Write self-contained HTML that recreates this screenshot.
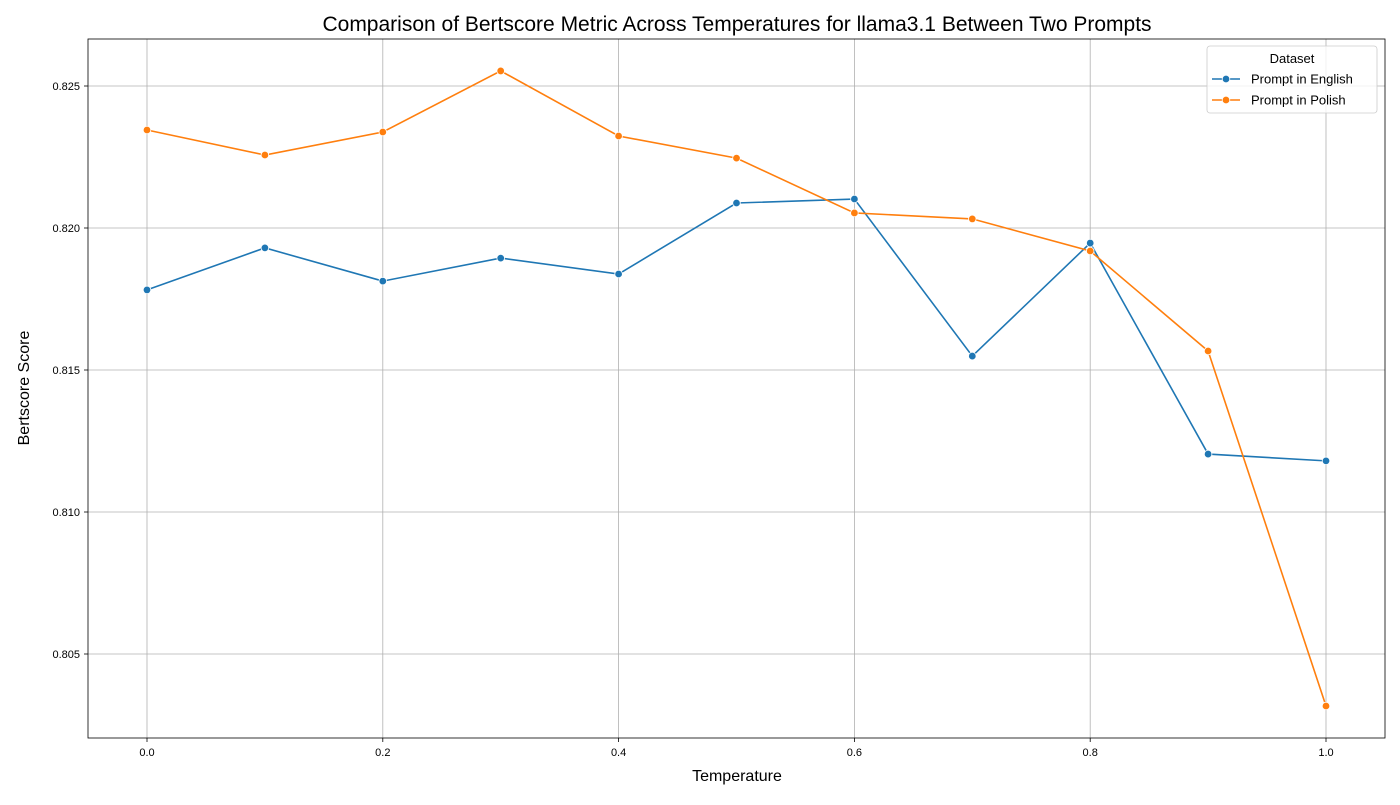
<!DOCTYPE html>
<html><head><meta charset="utf-8">
<style>
body{margin:0;background:#fff;font-family:"Liberation Sans",sans-serif;}
svg text{font-family:"Liberation Sans",sans-serif;}
</style></head>
<body>
<svg id="chart" width="1400" height="800" xmlns="http://www.w3.org/2000/svg"></svg>
<script>
const temperatures = [0.0,0.1,0.2,0.3,0.4,0.5,0.6,0.7,0.8,0.9,1.0];
const englishScores = [0.81782,0.81930,0.81813,0.81894,0.81838,0.82088,0.82102,0.81549,0.81947,0.81204,0.81180];
const polishScores = [0.82345,0.82257,0.82338,0.82553,0.82324,0.82246,0.82053,0.82032,0.81919,0.81567,0.80317];
const xTicks = [0.0,0.2,0.4,0.6,0.8,1.0];
const yTicks = [0.805,0.810,0.815,0.820,0.825];
const seriesNames = ["Prompt in English","Prompt in Polish"];

const svg = document.getElementById('chart');
const NS = "http://www.w3.org/2000/svg";
const L=88,R=1385,T=39,B=738;
function xs(v){return 147 + (v-0)*(1326-147)/1.0;}
function ys(v){return 228 - (v-0.820)*142/0.005;}
function mk(tag, attrs, parent){const e=document.createElementNS(NS,tag);for(const k in attrs)e.setAttribute(k,attrs[k]);(parent||svg).appendChild(e);return e;}

mk('rect',{x:0,y:0,width:1400,height:800,fill:'#fff'});
// grid
xTicks.forEach(t=>{
  const g=mk('line',{x1:xs(t),x2:xs(t),y1:T,y2:B,stroke:'#b0b0b0','stroke-width':0.8});
  
  
  mk('line',{x1:xs(t),x2:xs(t),y1:B,y2:B+4,stroke:'#000','stroke-width':0.8});
  const tx=mk('text',{x:xs(t),y:B+18,'text-anchor':'middle','font-size':11,fill:'#000'});
  tx.textContent=t.toFixed(1);
  
  
});
yTicks.forEach(t=>{
  const g=mk('line',{x1:L,x2:R,y1:ys(t),y2:ys(t),stroke:'#b0b0b0','stroke-width':0.8});
  
  
  mk('line',{x1:L-4,x2:L,y1:ys(t),y2:ys(t),stroke:'#000','stroke-width':0.8});
  const tx=mk('text',{x:L-8,y:ys(t)+4,'text-anchor':'end','font-size':11,fill:'#000'});
  tx.textContent=t.toFixed(3);
  
  
});
const frame=mk('rect',{x:L,y:T,width:R-L,height:B-T,fill:'none',stroke:'#000','stroke-width':0.8});



function drawSeries(vals,color,name){
  const g=mk('g',{});
  
  
  const pts=vals.map((v,i)=>xs(temperatures[i])+','+ys(v)).join(' ');
  mk('polyline',{points:pts,fill:'none',stroke:color,'stroke-width':1.6},g);
  vals.forEach((v,i)=>{
    const c=mk('circle',{cx:xs(temperatures[i]),cy:ys(v),r:3.8,fill:color,stroke:'#fff','stroke-width':0.8},g);
    
    
  });
}
drawSeries(englishScores,'#1f77b4','english-series');
drawSeries(polishScores,'#ff7f0e','polish-series');

const title=mk('text',{x:737,y:31,'text-anchor':'middle','font-size':21,fill:'#000'});
title.textContent='Comparison of Bertscore Metric Across Temperatures for llama3.1 Between Two Prompts';


const xl=mk('text',{x:737,y:781,'text-anchor':'middle','font-size':16,fill:'#000'});
xl.textContent='Temperature';


const yl=mk('text',{x:0,y:0,'text-anchor':'middle','font-size':16,fill:'#000',transform:'translate(29,388) rotate(-90)'});
yl.textContent='Bertscore Score';



// legend
const lg=mk('g',{});


mk('rect',{x:1207,y:46,width:170,height:67,rx:3,fill:'#fff','fill-opacity':0.8,stroke:'#ccc','stroke-width':0.8},lg);
const lt=mk('text',{x:1292,y:63,'text-anchor':'middle','font-size':13,fill:'#000'},lg);
lt.textContent='Dataset';


[['#1f77b4',79],['#ff7f0e',100]].forEach((d,i)=>{
  const e=mk('g',{},lg);
  
  
  mk('line',{x1:1212,x2:1240,y1:d[1],y2:d[1],stroke:d[0],'stroke-width':1.6},e);
  mk('circle',{cx:1226,cy:d[1],r:3.8,fill:d[0],stroke:'#fff','stroke-width':0.8},e);
  const t=mk('text',{x:1251,y:d[1]+4.5,'font-size':13,fill:'#000'},e);
  t.textContent=seriesNames[i];
});
</script>
</body></html>
